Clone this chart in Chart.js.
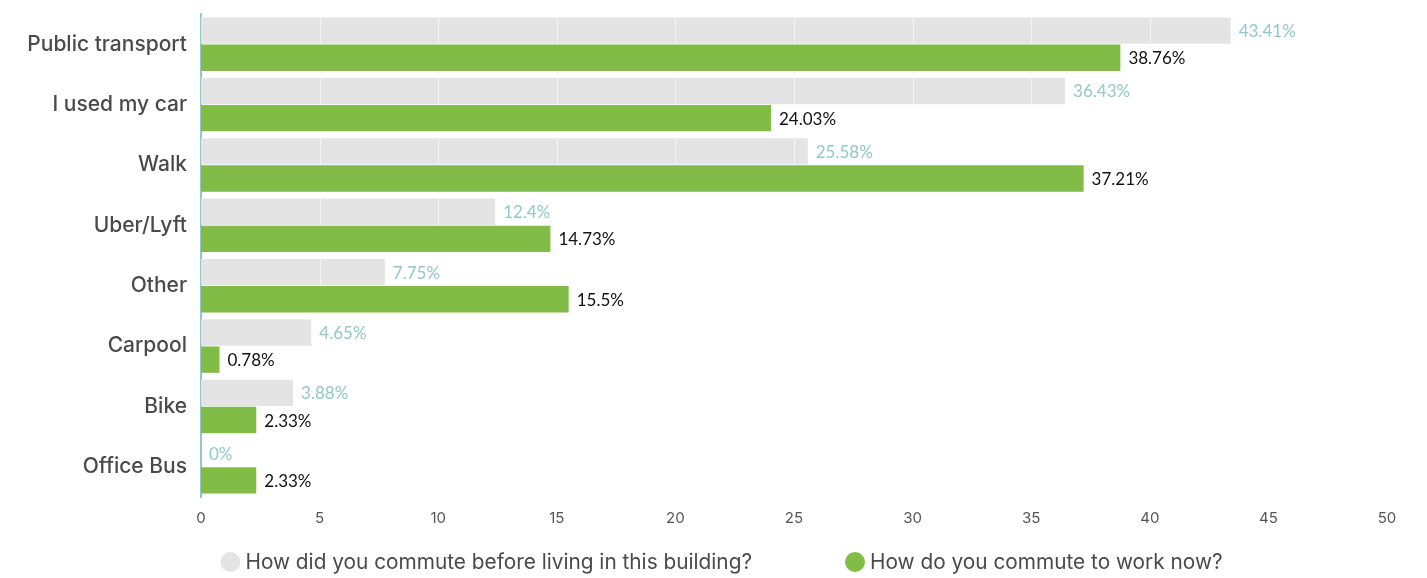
<!DOCTYPE html>
<html>
<head>
<meta charset="utf-8">
<script src="https://cdn.jsdelivr.net/npm/chart.js@4.4.1/dist/chart.umd.min.js"></script>
<style>
  html, body { margin: 0; padding: 0; background: #ffffff; }
  #wrap { width: 1427px; height: 578px; position: relative; }
</style>
</head>
<body>
<div id="wrap"><canvas id="chart"></canvas></div>
<script>
// Commute modes and survey shares (%)
const categories = ['Public transport', 'I used my car', 'Walk', 'Uber/Lyft', 'Other', 'Carpool', 'Bike', 'Office Bus'];
const beforeValues = [43.41, 36.43, 25.58, 12.4, 7.75, 4.65, 3.88, 0];
const nowValues = [38.76, 24.03, 37.21, 14.73, 15.5, 0.78, 2.33, 2.33];
const seriesNames = ['How did you commute before living in this building?', 'How do you commute to work now?'];
const xTicks = [0, 5, 10, 15, 20, 25, 30, 35, 40, 45, 50];

const GRAY = '#e4e4e4';
const GREEN = '#80bc46';
const TEAL = '#92c8c9';
const TEXT = '#4a4a4a';
const UI_FONT = 'Inter, "Noto Sans", sans-serif';

// Faint vertical guides that show only across the grey bars
const barGuides = {
  id: 'barGuides',
  afterDatasetDraw(chart, args) {
    if (args.index !== 0) return;
    const ctx = chart.ctx;
    const xs = chart.scales.x;
    ctx.save();
    ctx.strokeStyle = 'rgba(255,255,255,0.6)';
    ctx.lineWidth = 1;
    args.meta.data.forEach(bar => {
      const top = bar.y - bar.height / 2, bottom = bar.y + bar.height / 2;
      xTicks.forEach(v => {
        const px = Math.round(xs.getPixelForValue(v)) + 0.5;
        if (v > 0 && px < bar.x) {
          ctx.beginPath();
          ctx.moveTo(px, top);
          ctx.lineTo(px, bottom);
          ctx.stroke();
        }
      });
    });
    ctx.restore();
  }
};

// Writes each bar's value as a percentage just past its end
const valueLabels = {
  id: 'valueLabels',
  afterDatasetsDraw(chart) {
    const ctx = chart.ctx;
    ctx.save();
    ctx.font = '17px Lato, "Noto Sans", sans-serif';
    ctx.textBaseline = 'middle';
    ctx.textAlign = 'left';
    chart.data.datasets.forEach((ds, di) => {
      const meta = chart.getDatasetMeta(di);
      ctx.fillStyle = di === 0 ? TEAL : '#111111';
      meta.data.forEach((bar, i) => {
        ctx.fillText(ds.data[i] + '%', bar.x + 8, bar.y + 1);
      });
    });
    ctx.restore();
  }
};

// Legend row under the axis: a dot and the series name for each dataset
const dotLegend = {
  id: 'dotLegend',
  afterDraw(chart) {
    const ctx = chart.ctx;
    const y = 562, r = 10, textGap = 5, itemGap = 93;
    ctx.save();
    ctx.font = '20.8px ' + UI_FONT;
    ctx.textBaseline = 'middle';
    ctx.textAlign = 'left';
    const items = chart.data.datasets.map(ds => ({
      label: ds.label, color: ds.backgroundColor,
      w: r * 2 + textGap + ctx.measureText(ds.label).width
    }));
    const total = items.reduce((s, it) => s + it.w, 0) + itemGap * (items.length - 1);
    let x = (chart.width - total) / 2 + 8;
    items.forEach(it => {
      ctx.fillStyle = it.color;
      ctx.beginPath();
      ctx.arc(x + r, y, r, 0, Math.PI * 2);
      ctx.fill();
      ctx.fillStyle = TEXT;
      ctx.fillText(it.label, x + r * 2 + textGap, y + 1);
      x += it.w + itemGap;
    });
    ctx.restore();
  }
};

new Chart(document.getElementById('chart'), {
  type: 'bar',
  data: {
    labels: categories,
    datasets: [
      { label: seriesNames[0], data: beforeValues, backgroundColor: GRAY, borderWidth: 0,
        categoryPercentage: 0.9, barPercentage: 0.97 },
      { label: seriesNames[1], data: nowValues, backgroundColor: GREEN, borderWidth: 0,
        categoryPercentage: 0.9, barPercentage: 0.97 }
    ]
  },
  options: {
    indexAxis: 'y',
    responsive: true,
    maintainAspectRatio: false,
    animation: false,
    layout: { padding: { top: 14, right: 40, bottom: 39, left: 0 } },
    scales: {
      x: {
        min: 0, max: 50,
        afterBuildTicks(axis) { axis.ticks = xTicks.map(v => ({ value: v })); },
        grid: { display: false, drawTicks: false },
        border: { display: false },
        ticks: { color: '#555555', font: { size: 15, family: UI_FONT }, padding: 12 }
      },
      y: {
        afterFit(axis) {
          axis.width = 201;
          axis.paddingTop = 0;
          axis.paddingBottom = 0;
        },
        grid: { display: false, drawTicks: false },
        border: { display: true, color: TEAL, width: 2 },
        ticks: { color: TEXT, font: { size: 21, family: UI_FONT, weight: '500' }, padding: 14 }
      }
    },
    plugins: {
      legend: { display: false },
      tooltip: { enabled: false }
    }
  },
  plugins: [barGuides, valueLabels, dotLegend]
});
</script>
</body>
</html>
